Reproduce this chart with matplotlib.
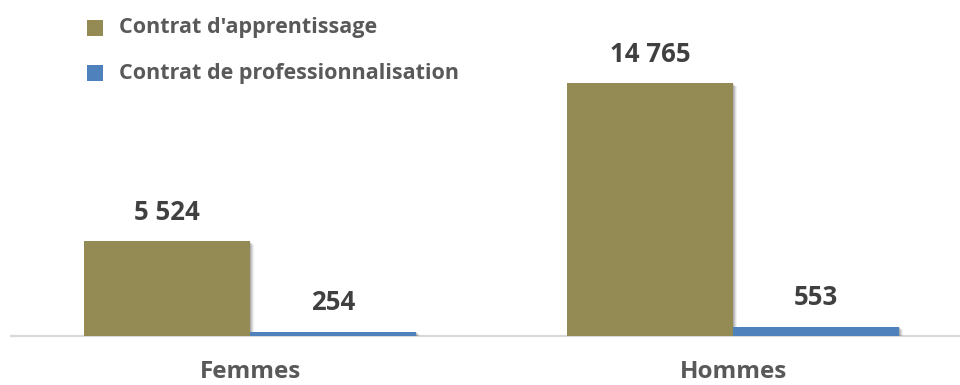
import matplotlib
matplotlib.use("Agg")
import matplotlib.pyplot as plt
import matplotlib.patheffects as pe
from matplotlib.patches import Rectangle

categories = ["Femmes", "Hommes"]
series_names = ["Contrat d'apprentissage", "Contrat de professionnalisation"]
apprentissage = [5524, 14765]
professionnalisation = [254, 553]
value_labels_app = ["5 524", "14 765"]
value_labels_pro = ["254", "553"]

colors = ["#948A54", "#4F81BD"]
plt.rcParams['font.family'] = ['Open Sans', 'DejaVu Sans']

W, H = 960, 385
fig = plt.figure(figsize=(W / 100, H / 100), dpi=100)
base_px = 336
ax = fig.add_axes([0, 1 - base_px / H, 1, base_px / H])

c0, step = 250.0, 483.0
ax.set_xlim(-c0 / step, (W - c0) / step)
ymax = max(apprentissage) * 336 / 253
ax.set_ylim(0, ymax)
ax.axis("off")

bw = 166 / step
shadow = [
    pe.SimplePatchShadow(offset=(3.2, -2.4), shadow_rgbFace="#000000", alpha=0.06),
    pe.SimplePatchShadow(offset=(2.4, -1.8), shadow_rgbFace="#000000", alpha=0.08),
    pe.SimplePatchShadow(offset=(1.6, -1.2), shadow_rgbFace="#000000", alpha=0.10),
    pe.SimplePatchShadow(offset=(0.8, -0.6), shadow_rgbFace="#000000", alpha=0.12),
    pe.Normal(),
]

x = list(range(len(categories)))
b1 = ax.bar([i - bw / 2 for i in x], apprentissage, width=bw, color=colors[0], zorder=3)
b2 = ax.bar([i + bw / 2 for i in x], professionnalisation, width=bw, color=colors[1], zorder=3)
for b in list(b1) + list(b2):
    b.set_path_effects(shadow)

ax.plot([(10 - c0) / step, (W - c0) / step], [0, 0], color="#D9D9D9", lw=1.6, zorder=1,
        solid_capstyle="butt", clip_on=False)

px_per_unit = 253 / max(apprentissage)
off = 29 / px_per_unit
for i in x:
    ax.text(i - bw / 2, apprentissage[i] + off, value_labels_app[i], ha="center", va="center",
            fontsize=18.5, fontweight="bold", color="#404040")
    ax.text(i + bw / 2, professionnalisation[i] + off, value_labels_pro[i], ha="center", va="center",
            fontsize=18.5, fontweight="bold", color="#404040")
    ax.text(i, -36 / px_per_unit, categories[i], ha="center", va="center",
            fontsize=17.5, fontweight="bold", color="#595959", clip_on=False)

leg_y = [28, 73]
for k, name in enumerate(series_names):
    yc = 1 - leg_y[k] / H
    fig.patches.append(Rectangle((87 / W, yc - 8 / H), 16 / W, 16 / H, transform=fig.transFigure,
                                 facecolor=colors[k], edgecolor="none"))
    fig.text(119 / W, yc, name, ha="left", va="center", fontsize=15.5, fontweight="bold",
             color="#595959")

fig.savefig("out.png", dpi=100)
